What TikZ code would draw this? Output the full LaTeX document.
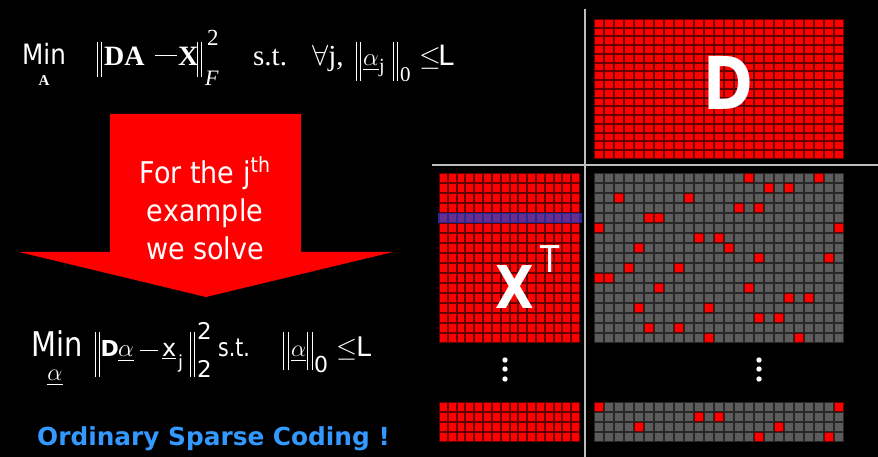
\RequirePackage{fix-cm}
\documentclass[tikz,border=0pt]{standalone}
\usepackage{amsmath}
\usepackage{graphicx}
\usepackage{fontspec}
\setmainfont{DejaVu Sans}
\newfontfamily\serifff{Liberation Serif}
\definecolor{ocblue}{RGB}{51,153,255}
\definecolor{divgray}{RGB}{190,190,190}
\definecolor{redgap}{RGB}{100,0,0}
\definecolor{graygap}{RGB}{40,40,40}
\definecolor{graycell}{RGB}{92,92,92}
\definecolor{purplecell}{RGB}{105,45,140}
\definecolor{purplegap}{RGB}{40,40,150}
\newcommand{\mygrid}[8]{%
  \fill[#8] (#1,#2) rectangle ({#1+#3*#5},{#2+#4*#6});
  \foreach \ci in {1,...,#3}{\foreach \ri in {1,...,#4}{%
    \fill[#7] ({#1+(\ci-1)*#5+1},{#2+(\ri-1)*#6+1}) rectangle ({#1+\ci*#5-1},{#2+\ri*#6-1});}}}
\newcommand{\redcells}[3]{%
  \foreach \cc/\rr in {#3}{%
    \fill[redgap] ({#1+\cc*10},{#2+\rr*10}) rectangle ++(10,10);
    \fill[red] ({#1+\cc*10+1},{#2+\rr*10+1}) rectangle ++(8,8);}}
\newcommand{\fsz}[1]{\fontsize{#1bp}{#1bp}\selectfont}
% piece placed at an absolute horizontal offset inside a node
\newcommand{\pc}[2]{\rlap{\hspace*{#1bp}#2}}
% double norm bar: total height, depth
\newcommand{\dbar}[2]{\rule[-#2bp]{1.2bp}{#1bp}\hspace{3.3bp}\rule[-#2bp]{1.2bp}{#1bp}}
\begin{document}
\begin{tikzpicture}[x=1bp,y=-1bp,
  txt/.style={text=white, inner sep=0pt},
  divider/.style={draw=divgray, line width=1.5bp}]
\fill[black] (0,0) rectangle (878,457);
\useasboundingbox (0,0) rectangle (878,457);

% dividers
\coordinate (vtop) at (585,9);
\coordinate (vbot) at (585,457);
\coordinate (hleft) at (432,165);
\coordinate (hright) at (878,165);
\draw[divider] (vtop) -- (vbot);
\draw[divider] (hleft) -- (hright);

% big arrow
\fill[red] (110,114) -- (301,114) -- (301,252) -- (393,252) -- (206,297) -- (19,252) -- (110,252) -- cycle;
\node[txt, align=center, anchor=center, font=\fontsize{30bp}{38bp}\selectfont] (arrowtext) at (205,208)
  {\scalebox{0.9}[1]{For the j\textsuperscript{th}}\\\scalebox{0.9}[1]{example}\\\scalebox{0.9}[1]{we solve}};

% D matrix
\mygrid{594}{19}{25}{16}{10}{8.75}{red}{redgap}
\node[txt, anchor=base] (Dlabel) at (728,110) {\fsz{73}\bfseries\scalebox{0.82}[1]{D}};

% X^T matrix
\mygrid{439}{173}{16}{17}{8.8125}{10}{red}{redgap}
\mygrid{438}{213}{1}{1}{144}{10}{purplegap}{purplegap}
\mygrid{439}{213}{16}{1}{8.8125}{10}{purplecell}{purplegap}
\node[txt, anchor=base] (Xlabel) at (515,309) {\fsz{59}\bfseries\scalebox{0.85}[1]{X}};
\node[txt, anchor=base] (Tlabel) at (550,273) {\fsz{37}\scalebox{0.85}[1]{T}};
\mygrid{439}{402}{16}{4}{8.8125}{10}{red}{redgap}

% sparse matrix
\mygrid{594}{173}{25}{17}{10}{10}{graycell}{graygap}
\redcells{594}{173}{15/0,22/0,17/1,19/1,2/2,9/2,14/3,16/3,5/4,6/4,0/5,24/5,10/6,12/6,4/7,13/7,16/8,23/8,3/9,8/9,0/10,1/10,6/11,15/11,19/12,21/12,4/13,11/13,16/14,18/14,5/15,8/15,11/16,20/16}
\mygrid{594}{402}{25}{4}{10}{10}{graycell}{graygap}
\redcells{594}{402}{0/0,24/0,10/1,12/1,4/2,18/2,16/3,23/3}

% vertical dots
\foreach \yy in {360,369,379}{
  \fill[white] (505,\yy) circle (2.7);
  \fill[white] (759,\yy) circle (2.7);
}

% formula 1
\node[txt, anchor=base west] (min1) at (22,65) {\fsz{28}\scalebox{0.88}[1]{Min}};
\node[txt, anchor=base] (A1) at (44,86) {\fsz{15}\serifff\bfseries A};
\node[txt, anchor=base west] (formula1) at (0,66) {%
  \pc{96.5}{\dbar{35}{11}}%
  \pc{104}{\fsz{28}\serifff\bfseries DA}%
  \pc{155}{\rule[9.5bp]{22bp}{1.3bp}}%
  \pc{178}{\fsz{28}\serifff\bfseries X}%
  \pc{196.5}{\dbar{35}{11}}%
  \pc{207}{\raisebox{20bp}{\fsz{23}\serifff 2}}%
  \pc{205}{\raisebox{-20bp}{\fsz{22}\serifff\itshape F}}%
  \pc{253}{\fsz{29}\serifff s.t.}%
  \pc{312}{\fsz{29}$\forall$\serifff j,}%
  \pc{355.5}{\dbar{39}{15}}%
  \pc{363}{\fsz{25}$\underline{\alpha}$}%
  \pc{379}{\raisebox{-7bp}{\fsz{20}\serifff j}}%
  \pc{392.5}{\dbar{39}{15}}%
  \pc{400}{\raisebox{-16bp}{\fsz{21}\serifff 0}}%
  \pc{419}{\fsz{28}$\le$}%
  \pc{438}{\fsz{28}L}%
  \hspace*{456bp}};

% formula 2
\node[txt, anchor=base west] (min2) at (31,357) {\fsz{34}\scalebox{0.85}[1]{Min}};
\node[txt, anchor=base] (al2) at (55,381) {\fsz{24}$\underline{\alpha}$};
\node[txt, anchor=base west] (formula2) at (0,357) {%
  \pc{94.5}{\dbar{45}{20}}%
  \pc{100.5}{\fsz{22}\bfseries D}%
  \pc{118}{\fsz{25}$\underline{\alpha}$}%
  \pc{140}{\rule[5.5bp]{18bp}{1.3bp}}%
  \pc{162}{\underline{\fsz{24}x}}%
  \pc{178}{\raisebox{-12bp}{\fsz{18}j}}%
  \pc{189.5}{\dbar{45}{20}}%
  \pc{197}{\raisebox{17bp}{\fsz{23}2}}%
  \pc{197}{\raisebox{-21bp}{\fsz{23}2}}%
  \pc{218}{\fsz{25}\scalebox{0.82}[1]{s.t.}}%
  \pc{283}{\dbar{38}{13}}%
  \pc{291}{\fsz{24}$\underline{\alpha}$}%
  \pc{307}{\dbar{38}{13}}%
  \pc{314}{\raisebox{-16bp}{\fsz{22}0}}%
  \pc{336}{\fsz{27}$\le$}%
  \pc{356}{\fsz{27}L}%
  \hspace*{374bp}};

% caption
\node[inner sep=0pt, text=ocblue, anchor=base west] (ocs) at (37,445) {\fsz{24.8}\bfseries Ordinary Sparse Coding !};
\end{tikzpicture}
\end{document}
